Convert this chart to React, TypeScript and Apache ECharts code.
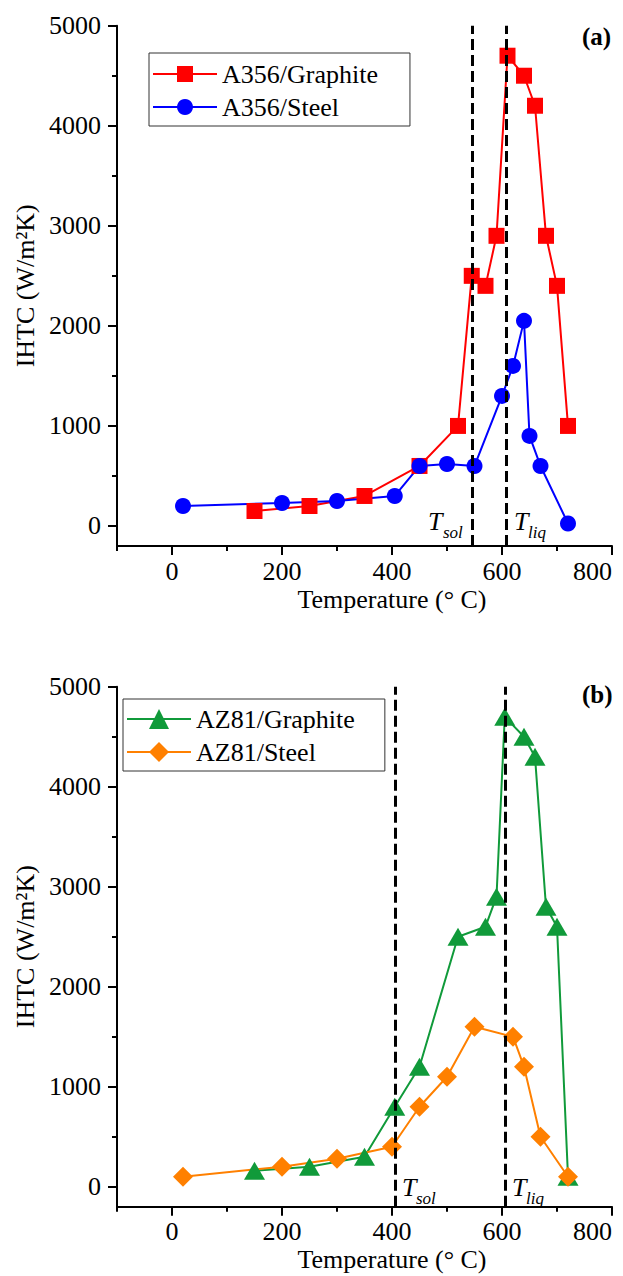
import React, { useEffect, useRef } from "react";
import * as echarts from "echarts";

// ---- data ----
const tempA356Graphite = [150, 250, 350, 450, 520, 545, 570, 590, 610, 640, 660, 680, 700, 720];
const ihtcA356Graphite = [150, 200, 300, 600, 1000, 2500, 2400, 2900, 4700, 4500, 4200, 2900, 2400, 1000];
const tempA356Steel = [20, 200, 300, 405, 450, 500, 550, 600, 620, 640, 650, 670, 720];
const ihtcA356Steel = [200, 230, 250, 300, 600, 620, 600, 1300, 1600, 2050, 900, 600, 25];
const tempAZ81Graphite = [150, 250, 350, 405, 450, 520, 570, 590, 605, 640, 660, 680, 700, 720];
const ihtcAZ81Graphite = [160, 200, 300, 800, 1200, 2500, 2600, 2900, 4700, 4500, 4300, 2800, 2600, 100];
const tempAZ81Steel = [20, 200, 300, 400, 450, 500, 550, 620, 640, 670, 720];
const ihtcAZ81Steel = [100, 200, 280, 400, 800, 1100, 1600, 1500, 1200, 500, 100];
const solLiqA356 = [545, 607];
const solLiqAZ81 = [405, 605];
const xTicksMajor = [0, 200, 400, 600, 800];
const xTicksMinor = [-100, 100, 300, 500, 700];
const yTicksMajor = [0, 1000, 2000, 3000, 4000, 5000];
const yTicksMinor = [500, 1500, 2500, 3500, 4500];

const FONT = "Liberation Serif";
const zip = (xs: number[], ys: number[]) => xs.map((x, i) => [x, ys[i]]);

function buildOption() {
  const grids = [
    { left: 117, right: 11, top: 25.7, height: 520.3, outerBoundsMode: "none", containLabel: false },
    { left: 117, right: 11, top: 686.7, height: 520, outerBoundsMode: "none", containLabel: false },
  ];
  const axisLineStyle = { color: "#000", width: 2 };
  const txt = { fontFamily: FONT, fontSize: 26, color: "#000" };
  const xAxis: any[] = [];
  const yAxis: any[] = [];
  grids.forEach((_, g) => {
    xAxis.push({
      type: "value",
      gridIndex: g,
      min: -100,
      max: 800,
      position: "bottom",
      axisLine: { show: true, onZero: false, lineStyle: axisLineStyle },
      axisTick: { show: true, customValues: xTicksMajor, length: 9, lineStyle: axisLineStyle },
      axisLabel: {
        ...txt,
        customValues: xTicksMajor,
        margin: 12,
        alignMaxLabel: "right",
        formatter: (v: number) => String(v),
      },
      splitLine: { show: false },
      name: "Temperature (° C)",
      nameLocation: "middle",
      nameGap: 40,
      nameTextStyle: { ...txt, padding: [0, 0, 0, 55] },
    });
    xAxis.push({
      type: "value",
      gridIndex: g,
      min: -100,
      max: 800,
      position: "bottom",
      axisLine: { show: false, onZero: false },
      axisTick: { show: true, customValues: xTicksMinor, length: 5, lineStyle: axisLineStyle },
      axisLabel: { show: false },
      splitLine: { show: false },
    });
    yAxis.push({
      type: "value",
      gridIndex: g,
      min: -200,
      max: 5000,
      position: "left",
      axisLine: { show: true, onZero: false, lineStyle: axisLineStyle },
      axisTick: { show: true, customValues: yTicksMajor, length: 9, lineStyle: axisLineStyle },
      axisLabel: { ...txt, customValues: yTicksMajor, margin: 16, formatter: (v: number) => String(v) },
      splitLine: { show: false },
      name: "IHTC (W/m²K)",
      nameLocation: "middle",
      nameRotate: 90,
      nameGap: 78,
      nameTextStyle: { ...txt },
    });
    yAxis.push({
      type: "value",
      gridIndex: g,
      min: -200,
      max: 5000,
      position: "left",
      axisLine: { show: false, onZero: false },
      axisTick: { show: true, customValues: yTicksMinor, length: 5, lineStyle: axisLineStyle },
      axisLabel: { show: false },
      splitLine: { show: false },
    });
  });

  const lineSeries = (name: string, xs: number[], ys: number[], g: number, color: string, symbol: string, size: any) => ({
    type: "line",
    name,
    xAxisIndex: g * 2,
    yAxisIndex: g * 2,
    data: zip(xs, ys),
    symbol,
    symbolSize: size,
    color,
    lineStyle: { color, width: 2 },
    itemStyle: { color, opacity: 1 },
    z: 3,
  });
  const dashSeries = (g: number, vals: number[]) => ({
    type: "line",
    name: "_dash" + g,
    xAxisIndex: g * 2,
    yAxisIndex: g * 2,
    data: [],
    z: 6,
    markLine: {
      silent: true,
      symbol: ["none", "none"],
      label: { show: false },
      lineStyle: { color: "#000", type: [11, 5], width: 3 },
      data: vals.map((v) => ({ xAxis: v })),
    },
  });

  const red = "#ff0000";
  const blue = "#0000ff";
  const green = "#109a3a";
  const orange = "#ff8000";

  const series = [
    lineSeries("A356/Graphite", tempA356Graphite, ihtcA356Graphite, 0, red, "rect", 16),
    lineSeries("A356/Steel", tempA356Steel, ihtcA356Steel, 0, blue, "circle", 16),
    dashSeries(0, solLiqA356),
    lineSeries("AZ81/Graphite", tempAZ81Graphite, ihtcAZ81Graphite, 1, green, "triangle", [21, 18]),
    lineSeries("AZ81/Steel", tempAZ81Steel, ihtcAZ81Steel, 1, orange, "diamond", 20),
    dashSeries(1, solLiqAZ81),
  ];

  const legendBase = {
    orient: "vertical",
    itemWidth: 64,
    itemGap: 7,
    borderColor: "#333",
    borderWidth: 1,
    selectedMode: false,
    textStyle: { ...txt, lineHeight: 26 },
  };
  const legend = [
    { ...legendBase, data: ["A356/Graphite", "A356/Steel"], left: 149, top: 53, itemHeight: 20, padding: [8, 32, 6, 3] },
    { ...legendBase, data: ["AZ81/Graphite", "AZ81/Steel"], left: 123, top: 699, itemHeight: 25, padding: [7, 30, 6, 3] },
  ];

  const t = (text: string, x: number, y: number, size: number, extra: any = {}) => ({
    type: "text",
    x,
    y,
    style: {
      text,
      fontSize: size,
      fontFamily: FONT,
      fill: "#000",
      verticalAlign: "middle",
      align: "left",
      ...extra,
    },
    z: 20,
  });
  const italic = { fontStyle: "italic" };
  const graphic = [
    t("(a)", 582, 36, 25, { fontWeight: "bold" }),
    t("(b)", 582, 694, 25, { fontWeight: "bold" }),
    t("T", 428, 521, 26, italic),
    t("sol", 443, 532, 17, italic),
    t("T", 514, 521, 26, italic),
    t("liq", 528, 532, 17, italic),
    t("T", 402, 1187, 26, italic),
    t("sol", 416, 1198, 17, italic),
    t("T", 512, 1187, 26, italic),
    t("liq", 526, 1198, 17, italic),
  ];

  return {
    animation: false,
    backgroundColor: "#fff",
    textStyle: { fontFamily: FONT },
    grid: grids,
    xAxis,
    yAxis,
    legend,
    series,
    graphic,
  };
}

export default function App() {
  const ref = useRef<HTMLDivElement>(null);
  useEffect(() => {
    document.body.style.margin = "0";
    document.body.style.overflow = "hidden";
    document.documentElement.style.overflow = "hidden";
    if (!ref.current) return;
    const chart = echarts.init(ref.current, undefined, { renderer: "svg", width: 623, height: 1276 });
    chart.setOption(buildOption() as any);
    return () => chart.dispose();
  }, []);
  return <div ref={ref} style={{ position: "absolute", left: 0, top: 0, width: 623, height: 1276, overflow: "hidden" }} />;
}
